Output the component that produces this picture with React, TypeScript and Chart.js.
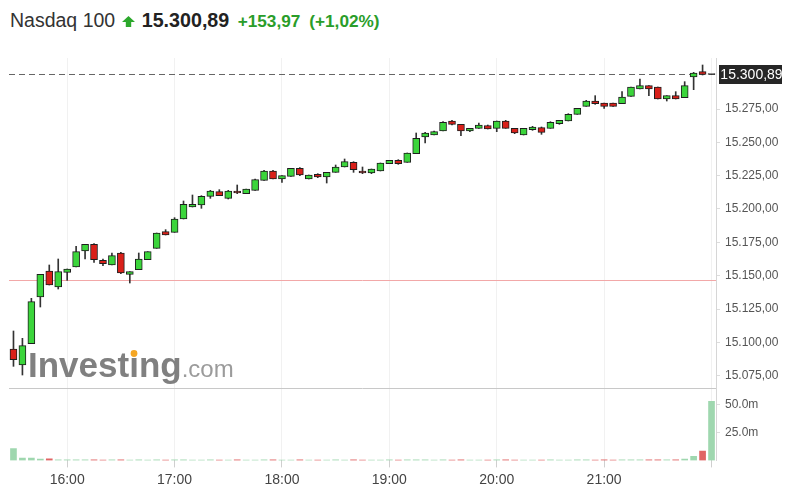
import React, { useEffect, useRef } from 'react';
import { Chart, registerables } from 'chart.js';

Chart.register(...registerables);

const FONT = 'Arial, "Liberation Sans", Helvetica, sans-serif';

const TITLE = 'Nasdaq 100';
const LAST = 15300.89;
const PREV_CLOSE = 15146.92;

const times = [
  '15:30', '15:35', '15:40', '15:45', '15:50', '15:55',
  '16:00', '16:05', '16:10', '16:15', '16:20', '16:25', '16:30', '16:35', '16:40', '16:45', '16:50', '16:55',
  '17:00', '17:05', '17:10', '17:15', '17:20', '17:25', '17:30', '17:35', '17:40', '17:45', '17:50', '17:55',
  '18:00', '18:05', '18:10', '18:15', '18:20', '18:25', '18:30', '18:35', '18:40', '18:45', '18:50', '18:55',
  '19:00', '19:05', '19:10', '19:15', '19:20', '19:25', '19:30', '19:35', '19:40', '19:45', '19:50', '19:55',
  '20:00', '20:05', '20:10', '20:15', '20:20', '20:25', '20:30', '20:35', '20:40', '20:45', '20:50', '20:55',
  '21:00', '21:05', '21:10', '21:15', '21:20', '21:25', '21:30', '21:35', '21:40', '21:45', '21:50', '21:55',
  '22:00',
];

// time labels printed under the axis (the 22:00 tick has no label)
const axisLabels = ['16:00', '17:00', '18:00', '19:00', '20:00', '21:00'];
const tickMarks = ['16:00', '17:00', '18:00', '19:00', '20:00', '21:00', '22:00'];

const opens = [
  15095, 15083, 15099, 15134, 15153.5, 15141.5, 15152.5, 15156.5, 15168.5, 15173.5,
  15161.5, 15158, 15167, 15151, 15154.5, 15162, 15170.5, 15183, 15182.5, 15192.5,
  15201.5, 15203, 15209.5, 15213, 15208, 15213.5, 15211.5, 15214, 15221.5, 15228.5,
  15222.5, 15224.5, 15230.5, 15222.5, 15226, 15224, 15227.5, 15231.5, 15235, 15228.5,
  15227, 15228.5, 15234, 15236.5, 15235, 15241.5, 15254, 15255.5, 15258.5, 15266,
  15263.5, 15258.5, 15260.5, 15262.5, 15260.5, 15266, 15260.5, 15255.5, 15259.5, 15261,
  15260.5, 15264, 15266, 15271, 15277, 15281, 15279.5, 15279.5, 15279, 15284.5,
  15290, 15292.5, 15291.5, 15282.5, 15285, 15283.5, 15299, 15303, 15300.89,
];

const highs = [
  15108.5, 15103, 15133, 15151, 15158, 15162.5, 15155, 15172, 15173.5, 15174,
  15162.5, 15167, 15167.5, 15153, 15167, 15168, 15182, 15184.5, 15193.5, 15206,
  15210.5, 15210, 15214, 15214.5, 15214, 15218, 15215, 15222.5, 15229, 15229,
  15225, 15230.5, 15231, 15225.5, 15226.5, 15227.5, 15233, 15237.5, 15235.5, 15231.5,
  15230, 15234.5, 15236.5, 15237, 15242, 15257, 15257.5, 15258.5, 15265.5, 15266.5,
  15263.5, 15260.5, 15264.5, 15263, 15266, 15266.5, 15260.5, 15260.5, 15262, 15261.5,
  15265.5, 15266.5, 15271.5, 15275.5, 15281.5, 15285, 15279.5, 15279.5, 15288, 15291.5,
  15297.5, 15292.5, 15291.5, 15285, 15288, 15295.5, 15302.5, 15308, 15300.89,
];

const lows = [
  15082, 15075.5, 15099, 15126.5, 15143, 15140, 15146.5, 15156.5, 15162.5, 15160,
  15157.5, 15158, 15151.5, 15144.5, 15154.5, 15162, 15170.5, 15180.5, 15182.5, 15192.5,
  15201.5, 15200.5, 15208, 15210, 15207.5, 15211.5, 15211.5, 15214, 15221.5, 15222.5,
  15220, 15224.5, 15225, 15222.5, 15223.5, 15219.5, 15227.5, 15231.5, 15227.5, 15226.5,
  15226.5, 15228.5, 15234, 15233.5, 15235, 15241.5, 15249.5, 15255.5, 15258.5, 15263,
  15255, 15258, 15260.5, 15260, 15258, 15260.5, 15256.5, 15255.5, 15259, 15256,
  15260.5, 15263.5, 15266, 15271, 15277, 15278.5, 15275.5, 15277, 15279, 15284.5,
  15290, 15285, 15282.5, 15281, 15282.5, 15283.5, 15289.5, 15300.5, 15300.89,
];

const closes = [
  15087, 15097.5, 15130.5, 15151, 15143, 15153, 15155, 15168, 15173.5, 15162,
  15159, 15165, 15152, 15153, 15162.5, 15168, 15182, 15180.5, 15192.5, 15203.5,
  15203.5, 15209.5, 15213.5, 15210, 15213.5, 15212, 15215, 15222, 15228.5, 15222.5,
  15225, 15230.5, 15225.5, 15225.5, 15224, 15227.5, 15231.5, 15235.5, 15229.5, 15227,
  15230, 15234.5, 15236.5, 15234, 15242, 15253, 15257, 15258, 15265, 15263.5,
  15258.5, 15260.5, 15263, 15260, 15266, 15260.5, 15257, 15260.5, 15261.5, 15257.5,
  15265, 15266.5, 15271, 15275.5, 15281, 15279, 15277, 15277, 15284, 15291.5,
  15292.5, 15290, 15282.5, 15285, 15282.5, 15292.5, 15302, 15300.89, 15300.89,
];

// volume in millions
const volumes = [
  10.6, 2.1, 2.1, 1.2, 1.5, 0.6, 0.5, 0.5, 0.6, 0.5,
  0.4, 0.5, 0.5, 0.4, 0.5, 0.4, 0.5, 0.4, 0.5, 0.5,
  0.4, 0.4, 0.5, 0.4, 0.4, 0.5, 0.4, 0.4, 0.5, 0.5,
  0.4, 0.4, 0.5, 0.4, 0.4, 0.4, 0.5, 0.4, 0.5, 0.4,
  0.4, 0.4, 0.5, 0.4, 0.5, 0.6, 0.5, 0.4, 0.5, 0.4,
  0.5, 0.4, 0.4, 0.4, 0.5, 0.5, 0.4, 0.4, 0.4, 0.4,
  0.5, 0.4, 0.4, 0.5, 0.5, 0.4, 0.5, 0.4, 0.5, 0.5,
  0.5, 0.5, 0.6, 0.5, 0.5, 1.2, 3.6, 8.4, 53.2,
];

const priceTicks = [15075, 15100, 15125, 15150, 15175, 15200, 15225, 15250, 15275];
const volumeTicks = [25, 50];

function fmtDE(v: number, d = 2): string {
  const [i, f] = Math.abs(v).toFixed(d).split('.');
  const s = i.replace(/\B(?=(\d{3})+(?!\d))/g, '.');
  return (v < 0 ? '-' : '') + s + (d > 0 ? ',' + f : '');
}

const change = LAST - PREV_CLOSE;
const changePct = (change / PREV_CLOSE) * 100;

export default function App() {
  const ref = useRef<HTMLCanvasElement>(null);

  useEffect(() => {
    const canvas = ref.current;
    if (!canvas) return;

    const bodyColors = closes.map((c, i) =>
      c === opens[i] ? '#444444' : c > opens[i] ? '#3bd53b' : '#d9201a'
    );
    const volColors = closes.map((c, i) =>
      i === 0 || c >= opens[i] ? '#9fd7af' : '#e06464'
    );
    const isTick = (i: number) => typeof i === 'number' && tickMarks.includes(times[i]);
    const isLabel = (i: number) => typeof i === 'number' && axisLabels.includes(times[i]);

    const overlay = {
      id: 'overlay',
      beforeDatasetsDraw(chart: any) {
        const { ctx, chartArea: ca, scales } = chart;
        const y = scales.y;
        ctx.save();
        // panel separator
        const sy = Math.round(y.bottom) + 0.5;
        ctx.strokeStyle = '#c8c8c8';
        ctx.lineWidth = 1;
        ctx.beginPath();
        ctx.moveTo(ca.left, sy);
        ctx.lineTo(ca.right, sy);
        ctx.stroke();
        // watermark
        const wx = ca.left + 19;
        const wy = y.bottom - 11;
        ctx.textAlign = 'left';
        ctx.textBaseline = 'alphabetic';
        ctx.font = 'bold 35px ' + FONT;
        ctx.fillStyle = '#808080';
        ctx.fillText('Investing', wx, wy);
        const wAll = ctx.measureText('Investing').width;
        const wInv = ctx.measureText('Invest').width;
        const wi = ctx.measureText('i').width;
        ctx.fillStyle = '#f5a623';
        ctx.beginPath();
        ctx.arc(wx + wInv + wi / 2, wy - 23.5, 3.4, 0, Math.PI * 2);
        ctx.fill();
        ctx.font = '24px ' + FONT;
        ctx.fillStyle = '#9b9b9b';
        ctx.fillText('.com', wx + wAll, wy);
        // previous close line
        const py = Math.round(y.getPixelForValue(PREV_CLOSE)) + 0.5;
        ctx.strokeStyle = '#f2a8a8';
        ctx.beginPath();
        ctx.moveTo(ca.left, py);
        ctx.lineTo(ca.right, py);
        ctx.stroke();
        // last price dashed line
        const ly = Math.round(y.getPixelForValue(LAST)) + 0.5;
        ctx.strokeStyle = '#666666';
        ctx.setLineDash([6, 4]);
        ctx.beginPath();
        ctx.moveTo(ca.left, ly);
        ctx.lineTo(ca.right + 3, ly);
        ctx.stroke();
        ctx.restore();
      },
      afterDraw(chart: any) {
        const { ctx, chartArea: ca, scales } = chart;
        const y = scales.y;
        const ly = y.getPixelForValue(LAST);
        ctx.save();
        const x0 = ca.right + 3;
        ctx.fillStyle = '#262626';
        ctx.fillRect(x0, Math.round(ly - 9.5), 65, 19);
        ctx.fillStyle = '#ffffff';
        ctx.font = '14px ' + FONT;
        ctx.textAlign = 'center';
        ctx.textBaseline = 'middle';
        ctx.fillText(fmtDE(LAST), x0 + 32.5, Math.round(ly - 9.5) + 10);
        ctx.restore();
      },
    };

    const chart = new Chart(canvas, {
      type: 'bar',
      data: {
        labels: times,
        datasets: [
          {
            label: 'body',
            data: opens.map((o, i) => [o, closes[i]]) as any,
            backgroundColor: bodyColors,
            borderColor: '#1e1e1e',
            borderWidth: 1,
            borderSkipped: false,
            barThickness: 7,
            minBarLength: 1,
            grouped: false,
            order: 0,
            yAxisID: 'y',
          } as any,
          {
            label: 'wick',
            data: lows.map((l, i) => [l, highs[i]]) as any,
            backgroundColor: '#333333',
            borderWidth: 0,
            barThickness: 1,
            grouped: false,
            order: 1,
            yAxisID: 'y',
          } as any,
          {
            label: 'volume',
            data: volumes.map((v) => v * 1e6),
            backgroundColor: volColors,
            borderWidth: 0,
            barThickness: 6,
            grouped: false,
            order: 2,
            yAxisID: 'yv',
          } as any,
        ],
      },
      options: {
        animation: false,
        responsive: false,
        maintainAspectRatio: false,
        layout: { padding: { left: 1, top: 18, right: 0, bottom: 0 } },
        plugins: {
          legend: { display: false },
          tooltip: { enabled: false },
        },
        scales: {
          x: {
            type: 'category',
            offset: true,
            grid: {
              offset: false,
              drawOnChartArea: true,
              drawTicks: true,
              tickLength: 7,
              color: (c: any) => (isTick(c.index) ? '#f1f1f1' : 'rgba(0,0,0,0)'),
              tickColor: (c: any) => (isTick(c.index) ? '#cfcfcf' : 'rgba(0,0,0,0)'),
            },
            border: { display: false },
            ticks: {
              autoSkip: false,
              maxRotation: 0,
              minRotation: 0,
              padding: 4,
              color: '#444444',
              font: { family: FONT, size: 14 },
              callback: (_v: any, i: number) => (isLabel(i) ? times[i] : ''),
            },
            afterFit: (s: any) => {
              s.height = 39.6;
            },
          },
          y: {
            position: 'right',
            stack: 'panels',
            stackWeight: 330,
            min: 15065.75,
            max: 15313.25,
            afterBuildTicks: (s: any) => {
              s.ticks = priceTicks.map((v) => ({ value: v }));
            },
            afterFit: (s: any) => {
              s.width = 74;
            },
            grid: { drawOnChartArea: false, drawTicks: true, tickLength: 4, tickColor: '#dddddd' },
            border: { color: '#d6d6d6' },
            ticks: {
              padding: 5,
              color: '#555555',
              font: { family: FONT, size: 12 },
              callback: (v: any) => fmtDE(Number(v)),
            },
          },
          yv: {
            position: 'right',
            stack: 'panels',
            stackWeight: 72.4,
            min: 0,
            max: 65.3e6,
            afterBuildTicks: (s: any) => {
              s.ticks = volumeTicks.map((v) => ({ value: v * 1e6 }));
            },
            afterFit: (s: any) => {
              s.width = 74;
            },
            grid: { drawOnChartArea: false, drawTicks: true, tickLength: 4, tickColor: '#dddddd' },
            border: { color: '#d6d6d6' },
            ticks: {
              padding: 5,
              color: '#555555',
              font: { family: FONT, size: 12 },
              callback: (v: any) => (Number(v) / 1e6).toFixed(1) + 'm',
            },
          },
        } as any,
      },
      plugins: [overlay],
    });

    return () => chart.destroy();
  }, []);

  return (
    <div style={{ position: 'relative', width: 782, height: 496, fontFamily: FONT }}>
      <span
        style={{ position: 'absolute', left: 2, top: 2.8, fontSize: 19.5, lineHeight: '19.5px', color: '#333333', whiteSpace: 'nowrap' }}
      >
        {TITLE}
      </span>
      <svg style={{ position: 'absolute', left: 113.7, top: 7.5 }} width="13" height="11.5" viewBox="0 0 13 11.5">
        <path d="M6.5 0 L13 6 L9.2 6 L9.2 11.5 L3.8 11.5 L3.8 6 L0 6 Z" fill="#2ca82c" />
      </svg>
      <span
        style={{ position: 'absolute', left: 133.7, top: 2.6, fontSize: 19.7, lineHeight: '19.7px', fontWeight: 'bold', color: '#222222', whiteSpace: 'nowrap' }}
      >
        {fmtDE(LAST)}
      </span>
      <span
        style={{ position: 'absolute', left: 229.7, top: 4.7, fontSize: 17.2, lineHeight: '17.2px', fontWeight: 'bold', color: '#2a9d2a', whiteSpace: 'nowrap' }}
      >
        {'+' + fmtDE(change)}
      </span>
      <span
        style={{ position: 'absolute', left: 301.3, top: 4.7, fontSize: 17.2, lineHeight: '17.2px', fontWeight: 'bold', color: '#2a9d2a', whiteSpace: 'nowrap' }}
      >
        {'(+' + fmtDE(changePct) + '%)'}
      </span>
      <canvas
        ref={ref}
        width={782}
        height={460}
        style={{ position: 'absolute', left: 0, top: 32, width: 782, height: 460 }}
      />
    </div>
  );
}
